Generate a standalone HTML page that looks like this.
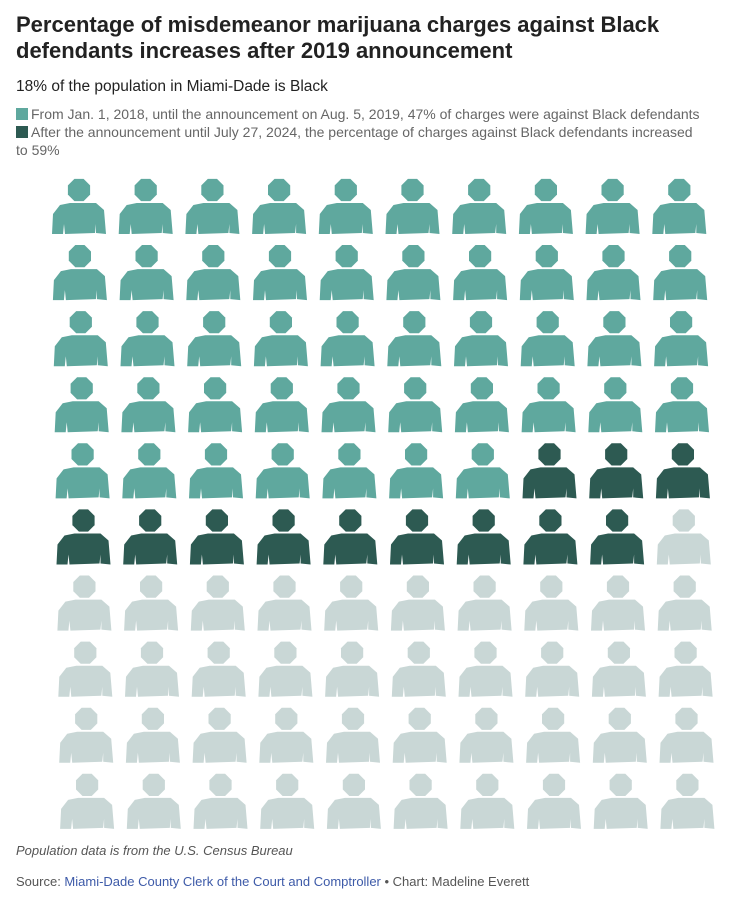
<!DOCTYPE html>
<html><head><meta charset="utf-8"><style>
body{margin:0;width:740px;height:906px;background:#fff;font-family:"Liberation Sans",sans-serif;color:#222;position:relative;overflow:hidden}
.t{position:absolute;left:16px;margin:0}
h1.t{top:12px;font-size:22px;line-height:26px;font-weight:bold;color:#222;width:720px}
.sub{top:78px;font-size:15.5px}
.leg{font-size:14px;color:#666;line-height:17.5px;left:16px;position:absolute;width:900px;white-space:nowrap}
.sw{display:inline-block;width:12px;height:12px;vertical-align:-1px;margin-right:3px}
</style></head><body>
<h1 class="t">Percentage of misdemeanor marijuana charges against Black defendants increases after 2019 announcement</h1>
<p class="t sub">18% of the population in Miami-Dade is Black</p>
<div class="leg" style="top:106px"><span class="sw" style="background:#5fa89e"></span>From Jan. 1, 2018, until the announcement on Aug. 5, 2019, 47% of charges were against Black defendants</div>
<div class="leg" style="top:124px"><span class="sw" style="background:#2d5a52"></span>After the announcement until July 27, 2024, the percentage of charges against Black defendants increased</div>
<div class="leg" style="top:141.5px">to 59%</div>
<svg id="chart" width="740" height="906" style="position:absolute;left:0;top:0"></svg>
<p class="t" style="top:843px;font-size:13px;font-style:italic;color:#555">Population data is from the U.S. Census Bureau</p>
<p class="t" style="top:874px;font-size:13px;color:#555">Source: <span style="color:#3d5aa8">Miami-Dade County Clerk of the Court and Comptroller</span> • Chart: Madeline Everett</p>
<script>
const categories=["before","after","rest"];
const values=[47,12,41];
const colors={before:"#5fa89e",after:"#2d5a52",rest:"#c9d7d6"};
const svg=document.getElementById('chart');
const NS="http://www.w3.org/2000/svg";
const seq=[];
categories.forEach((c,i)=>{for(let k=0;k<values[i];k++)seq.push(c);});
for(let r=0;r<10;r++){for(let c=0;c<10;c++){
 const cat=seq[r*10+c]||"rest";
 const x=52+r*0.9+c*66.7, y=204+r*66.1;
 const g=document.createElementNS(NS,'g');
 
 
 g.setAttribute('fill',colors[cat]);
 g.setAttribute('transform',`translate(${x},${y})`);
 const head=document.createElementNS(NS,'polygon');
 const pts=[];for(let a=0;a<8;a++){const t=Math.PI/8+a*Math.PI/4;pts.push((27+12*Math.cos(t)).toFixed(1)+','+(-14+12*Math.sin(t)).toFixed(1));}
 head.setAttribute('points',pts.join(' '));
 const body=document.createElementNS(NS,'polygon');
 body.setAttribute('points','8,1 18,-1 44,-1 52,6 54,30 44,29 44,20 43,29 13,30 12,20 11,30 0,30 1,10');
 g.appendChild(head);g.appendChild(body);svg.appendChild(g);
}}
</script>
</body></html>
